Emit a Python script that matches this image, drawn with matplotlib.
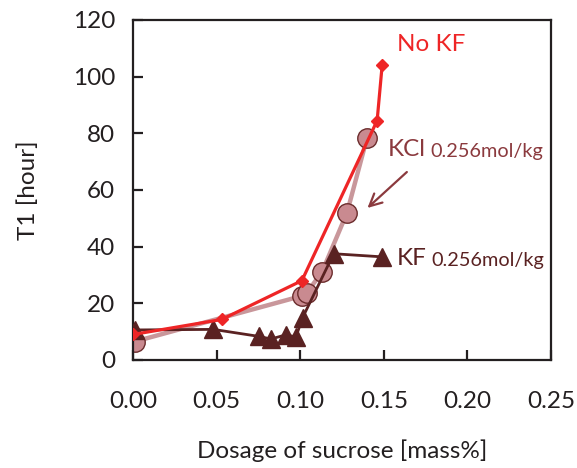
import matplotlib.pyplot as plt

plt.rcParams['font.family'] = ['Lato', 'DejaVu Sans']

# No KF (red diamonds)
nokf_x = [0.000, 0.053, 0.101, 0.146, 0.149]
nokf_y = [9.0, 14.3, 28.0, 84.5, 104.0]

# KCl 0.256 mol/kg (pink circles)
kcl_x = [0.001, 0.101, 0.104, 0.113, 0.128, 0.140]
kcl_y = [6.5, 22.6, 23.8, 31.0, 52.0, 78.5]

# KF 0.256 mol/kg (dark triangles)
kf_x = [0.001, 0.048, 0.0756, 0.0825, 0.0915, 0.0974, 0.1014, 0.120, 0.149]
kf_y = [10.6, 10.8, 8.3, 7.4, 8.9, 8.1, 14.9, 37.5, 36.4]

x_ticks = [0.00, 0.05, 0.10, 0.15, 0.20, 0.25]
y_ticks = [0, 20, 40, 60, 80, 100, 120]

red = '#EE2526'
pink_line = '#C9979B'
pink_fill = '#C98A90'
pink_edge = '#6B2C2C'
dark = '#5A2222'
kcl_text = '#8B3A3E'
axis_col = '#231F20'

fig = plt.figure(figsize=(5.77, 4.68), dpi=100)
ax = fig.add_axes([0.2305, 0.2308, 0.7245, 0.7265])

ax.plot(kcl_x, kcl_y, color=pink_line, lw=3.2, marker='o', ms=14,
        mfc=pink_fill, mec=pink_edge, mew=1.0, zorder=2)
ax.plot(kf_x, kf_y, color=dark, lw=2.0, marker='^', ms=13,
        mfc=dark, mec=dark, zorder=3)
ax.plot(nokf_x, nokf_y, color=red, lw=2.3, marker='D', ms=6,
        mfc=red, mec=red, zorder=4)

ax.set_xlim(0, 0.25)
ax.set_ylim(0, 120)
ax.set_xticks(x_ticks)
ax.set_xticklabels([f'{v:.2f}' for v in x_ticks])
ax.set_yticks(y_ticks)

for s in ax.spines.values():
    s.set_linewidth(1.6)
    s.set_color(axis_col)
ax.tick_params(direction='in', length=7, width=1.6, color=axis_col,
               labelsize=17.5, labelcolor=axis_col, pad=13)
ax.tick_params(axis='x', pad=22)

ax.set_xlabel('Dosage of sucrose [mass%]', fontsize=17.5, color=axis_col, labelpad=20)
ax.set_ylabel('T1 [hour]', fontsize=17.5, color=axis_col, labelpad=24)

ax.text(0.158, 111.5, 'No KF', color=red, fontsize=17.5, va='center', ha='left')

t_kcl = ax.text(0.1525, 72.0, 'KCl', color=kcl_text, fontsize=17.5, va='baseline', ha='left')
ax.annotate('0.256mol/kg', xy=(1, 0), xycoords=t_kcl, xytext=(3, 0),
            textcoords='offset points', color=kcl_text, fontsize=14.3,
            va='bottom', ha='left')
ax.annotate('', xy=(0.139, 53.0), xytext=(0.165, 67.0),
            arrowprops=dict(arrowstyle='->', color=kcl_text, lw=1.6,
                            mutation_scale=22))

t_kf = ax.text(0.158, 33.5, 'KF', color=dark, fontsize=17.5, va='baseline', ha='left')
ax.annotate('0.256mol/kg', xy=(1, 0), xycoords=t_kf, xytext=(3, 0),
            textcoords='offset points', color=dark, fontsize=14.3,
            va='bottom', ha='left')

fig.savefig('out.png', dpi=100)
